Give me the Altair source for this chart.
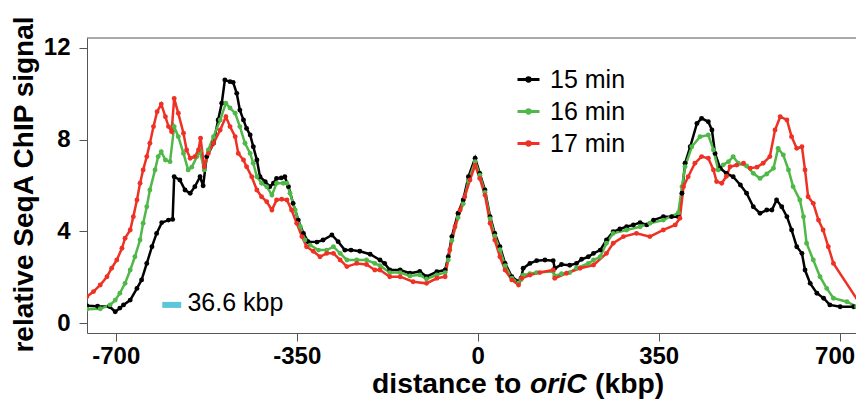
import altair as alt
import pandas as pd

# ---------------- data ----------------
series_names = ["15 min", "16 min", "17 min"]
series_colors = ["#000000", "#4fb848", "#ee3124"]

black_x = [-756, -735, -712, -701, -692, -685, -672, -659, -650, -640, -630, -621, -611, -598, -590, -587, -576, -566, -556, -547, -537, -531, -524, -511, -502, -495, -489, -479, -473, -466, -460, -453, -447, -440, -434, -427, -421, -411, -402, -395, -389, -380, -373, -366, -357, -347, -337, -328, -311, -299, -282, -270, -257, -245, -228, -208, -189, -180, -170, -150, -131, -112, -99, -79, -63, -57, -50, -38, -28, -18, -5, 4, 14, 24, 33, 43, 53, 66, 79, 84, 88, 101, 114, 130, 146, 149, 162, 178, 191, 201, 214, 224, 237, 249, 262, 275, 288, 301, 314, 327, 340, 359, 375, 388, 395, 401, 411, 424, 433, 446, 453, 459, 469, 481, 494, 508, 520, 533, 546, 559, 569, 578, 588, 598, 607, 617, 627, 633, 643, 656, 669, 681, 701, 727, 745]
black_y = [0.75, 0.73, 0.72, 0.49, 0.65, 0.79, 1.0, 1.51, 1.88, 2.6, 3.33, 3.91, 4.38, 4.49, 4.52, 6.38, 6.24, 5.8, 5.66, 5.95, 6.38, 5.99, 7.26, 7.84, 8.86, 9.59, 10.6, 10.53, 10.5, 10.02, 9.29, 8.86, 8.49, 8.2, 7.69, 7.11, 6.38, 6.17, 5.95, 6.1, 6.31, 6.33, 6.38, 5.95, 5.22, 4.49, 3.91, 3.55, 3.53, 3.62, 3.84, 3.55, 3.18, 3.18, 3.13, 3.0, 2.75, 2.6, 2.31, 2.31, 2.17, 2.25, 2.02, 2.24, 2.31, 2.89, 3.77, 4.79, 5.37, 6.38, 7.19, 6.53, 5.8, 4.64, 3.91, 3.33, 2.6, 2.02, 1.8, 1.95, 2.39, 2.6, 2.72, 2.75, 2.72, 2.39, 2.55, 2.52, 2.6, 2.78, 2.89, 3.04, 3.18, 3.62, 3.98, 4.1, 4.2, 4.28, 4.38, 4.28, 4.49, 4.64, 4.64, 4.64, 5.66, 6.97, 7.69, 8.71, 8.93, 8.78, 8.42, 7.4, 6.75, 6.53, 6.38, 6.02, 5.66, 5.07, 4.79, 4.93, 4.93, 5.37, 5.07, 4.64, 4.06, 3.33, 3.04, 2.31, 1.73, 1.3, 1.08, 0.79, 0.71, 0.71, 0.58]

green_x = [-756, -730, -711, -701, -692, -682, -672, -663, -653, -647, -640, -634, -624, -618, -612, -604, -595, -587, -579, -569, -560, -553, -543, -537, -529, -521, -511, -498, -487, -479, -469, -460, -450, -440, -434, -427, -418, -408, -398, -389, -376, -369, -363, -353, -343, -334, -324, -308, -292, -279, -266, -253, -234, -215, -199, -189, -170, -150, -131, -112, -99, -79, -63, -57, -50, -38, -28, -18, -5, 4, 14, 24, 33, 43, 53, 66, 79, 84, 88, 101, 114, 146, 149, 162, 178, 191, 214, 224, 237, 249, 262, 288, 314, 333, 359, 388, 395, 401, 414, 430, 446, 456, 465, 475, 485, 494, 504, 520, 533, 546, 559, 572, 581, 591, 601, 610, 623, 630, 636, 649, 662, 675, 688, 714, 733, 745]
green_y = [0.6, 0.62, 0.79, 1.0, 1.3, 1.73, 2.31, 2.89, 3.62, 4.35, 5.07, 5.8, 6.68, 7.26, 7.47, 7.11, 7.04, 8.57, 8.13, 7.4, 6.68, 6.8, 7.26, 7.5, 6.68, 7.55, 8.13, 8.86, 9.59, 9.38, 9.15, 8.57, 7.84, 7.4, 6.97, 6.38, 6.1, 5.95, 5.58, 6.1, 6.1, 6.1, 5.66, 4.93, 4.2, 3.62, 3.4, 3.18, 3.18, 3.33, 3.04, 2.75, 2.75, 2.75, 2.6, 2.5, 2.2, 2.2, 2.05, 2.1, 1.92, 2.1, 2.2, 2.75, 3.6, 4.6, 5.2, 6.2, 7.04, 6.45, 5.7, 4.55, 3.8, 3.2, 2.5, 1.95, 1.75, 1.9, 2.09, 2.15, 2.2, 2.25, 2.05, 2.15, 2.2, 2.4, 2.6, 2.75, 2.89, 3.48, 3.91, 4.06, 4.2, 4.35, 4.49, 4.81, 5.95, 6.82, 7.69, 8.13, 8.2, 7.55, 6.68, 6.9, 7.04, 7.26, 6.97, 6.85, 6.53, 6.31, 6.5, 6.75, 7.62, 7.33, 6.68, 5.95, 5.37, 4.64, 3.48, 2.75, 2.02, 1.51, 1.08, 0.93, 0.71, 0.5]

red_x = [-756, -743, -730, -717, -708, -698, -688, -682, -672, -666, -659, -653, -647, -640, -634, -627, -620, -612, -604, -598, -592, -587, -579, -569, -563, -556, -547, -540, -536, -529, -521, -511, -498, -487, -479, -469, -463, -453, -447, -437, -427, -418, -408, -398, -389, -379, -369, -360, -350, -340, -331, -318, -305, -292, -279, -266, -253, -234, -215, -199, -189, -170, -150, -125, -99, -79, -63, -54, -44, -34, -25, -15, -5, 4, 14, 24, 33, 43, 53, 66, 79, 85, 101, 120, 146, 149, 172, 198, 224, 249, 262, 282, 307, 333, 359, 382, 391, 398, 407, 420, 433, 446, 456, 462, 472, 481, 488, 501, 514, 527, 540, 552, 565, 575, 585, 598, 607, 617, 627, 633, 639, 649, 659, 668, 678, 688, 745]
red_y = [1.15, 1.37, 1.66, 2.02, 2.39, 2.75, 3.26, 3.7, 4.06, 4.64, 5.37, 6.1, 6.68, 7.26, 7.84, 8.57, 9.22, 9.55, 9.0, 8.57, 8.35, 9.8, 9.15, 8.28, 7.55, 7.19, 7.26, 7.55, 8.06, 6.82, 7.4, 7.84, 8.42, 9.0, 8.57, 8.13, 7.4, 7.11, 6.82, 6.38, 5.8, 5.51, 5.29, 4.93, 5.37, 5.4, 5.37, 4.93, 4.35, 3.77, 3.33, 3.13, 2.89, 3.04, 3.04, 2.75, 2.46, 2.6, 2.55, 2.31, 2.31, 2.02, 2.02, 1.8, 1.73, 1.95, 2.02, 3.18, 4.2, 4.93, 5.51, 6.24, 6.89, 6.31, 5.58, 4.35, 3.62, 2.89, 2.31, 1.88, 1.66, 1.95, 2.09, 2.2, 2.31, 1.95, 2.17, 2.39, 2.53, 3.04, 3.48, 3.77, 3.91, 3.77, 4.06, 4.28, 4.57, 5.95, 6.38, 6.97, 7.26, 7.19, 6.68, 6.17, 6.1, 6.4, 6.82, 6.89, 6.97, 6.75, 6.8, 6.97, 7.26, 8.42, 9.0, 8.86, 8.13, 7.62, 7.69, 6.68, 5.51, 5.22, 4.49, 4.06, 3.33, 2.6, 0.64]

x_ticks = [-700, -350, 0, 350, 700]
y_ticks = [0, 4, 8, 12]

scalebar_start = -610.0
scalebar_kbp = 36.6
scalebar_level = 0.79
scalebar_label = "36.6 kbp"

y_title = "relative SeqA ChIP signal"
x_title_parts = ["distance to", "oriC", "(kbp)"]

# ---------------- build ----------------
frames = []
for name, xs, ys in zip(series_names, [black_x, green_x, red_x], [black_y, green_y, red_y]):
    frames.append(pd.DataFrame({"x": xs, "y": ys, "series": name}))
df = pd.concat(frames, ignore_index=True)

W, H = 769, 295
FONT = "Liberation Sans"
FRAME = "#555555"

xscale = alt.Scale(domain=[-755.6, 731.6], nice=False, zero=False)
yscale = alt.Scale(domain=[-0.436, 12.435], nice=False, zero=False)
cscale = alt.Scale(domain=series_names, range=series_colors)

xaxis = alt.Axis(values=x_ticks, title=None, grid=False, labelFont=FONT, labelFontSize=24,
                 labelFontWeight="bold", labelColor="black", tickColor=FRAME, tickSize=8,
                 domainColor=FRAME, labelPadding=3, labelFlush=20, labelFlushOffset=15,
                 labelExpr="'' + datum.value")
yaxis = alt.Axis(values=y_ticks, title=y_title, grid=False, labelFont=FONT, labelFontSize=24,
                 labelFontWeight="bold", labelColor="black", tickColor=FRAME, tickSize=8,
                 domainColor=FRAME, labelPadding=9, labelExpr="'' + datum.value",
                 titleFont=FONT, titleFontSize=28, titleFontWeight="bold", titleColor="black",
                 titleAngle=270, titleX=-55, titleY=146, titleAlign="center",
                 titleBaseline="alphabetic")

legend = alt.Legend(title=None, orient="none", legendX=429, legendY=29, padding=0,
                    symbolType="M-1,0L1,0M-0.16,0A0.16,0.16,0,1,1,0.16,0A0.16,0.16,0,1,1,-0.16,0Z",
                    symbolSize=484, symbolStrokeWidth=2.8, labelFont=FONT, labelFontSize=25,
                    labelColor="black", labelOffset=9, rowPadding=6)

base = alt.Chart(df)
lines = base.mark_line(strokeWidth=2.5, clip=True).encode(
    x=alt.X("x:Q", scale=xscale, axis=xaxis),
    y=alt.Y("y:Q", scale=yscale, axis=yaxis),
    color=alt.Color("series:N", scale=cscale, legend=legend),
    detail="series:N",
)
points = base.mark_circle(size=24, opacity=1, clip=True).encode(
    x="x:Q", y="y:Q",
    color=alt.Color("series:N", scale=cscale, legend=None),
)

sb = pd.DataFrame({"x": [scalebar_start], "x2": [scalebar_start + scalebar_kbp],
                   "y": [scalebar_level], "tx": [scalebar_start + scalebar_kbp + 12],
                   "ty": [scalebar_level + 0.08], "label": [scalebar_label]})
sbar = alt.Chart(sb).mark_rule(strokeWidth=6, color="#5bc5dc").encode(x="x:Q", x2="x2:Q", y="y:Q")
stext = alt.Chart(sb).mark_text(align="left", baseline="middle", font=FONT, fontSize=25,
                                color="black").encode(x="tx:Q", y="ty:Q", text="label:N")

one = pd.DataFrame({"a": [0]})
top_frame = alt.Chart(one).mark_rule(color=FRAME, strokeWidth=1).encode(
    x=alt.value(0), x2=alt.value(W), y=alt.value(0))

t1 = alt.Chart(pd.DataFrame({"t": [x_title_parts[0]]})).mark_text(
    align="left", baseline="alphabetic", font=FONT, fontSize=28.3, fontWeight="bold",
    color="black").encode(text="t:N", x=alt.value(285), y=alt.value(355))
t2 = alt.Chart(pd.DataFrame({"t": [x_title_parts[1]]})).mark_text(
    align="left", baseline="alphabetic", font=FONT, fontSize=28.3, fontWeight="bold",
    fontStyle="italic", color="black").encode(text="t:N", x=alt.value(443), y=alt.value(355))
t3 = alt.Chart(pd.DataFrame({"t": [x_title_parts[2]]})).mark_text(
    align="left", baseline="alphabetic", font=FONT, fontSize=28.3, fontWeight="bold",
    color="black").encode(text="t:N", x=alt.value(508), y=alt.value(355))

chart = alt.layer(lines, points, sbar, stext, top_frame, t1, t2, t3).properties(
    width=W, height=H,
    autosize=alt.AutoSizeParams(type="none"),
    padding={"left": 79, "top": 30, "right": 0, "bottom": 69},
    background="white",
).configure_view(strokeWidth=0)

chart.save("out.html", embed_options={"renderer": "svg", "actions": False})
